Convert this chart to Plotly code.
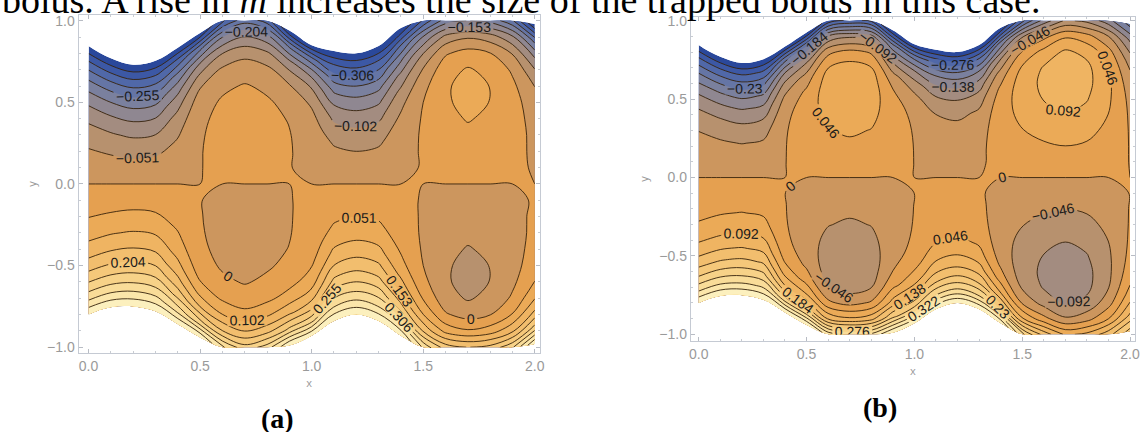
import plotly.graph_objects as go

# ---------------- data ----------------
# x positions of the sampled columns (same for both panels)
x_cols = [0.0, 0.1, 0.2, 0.3, 0.4, 0.5, 0.6, 0.7, 0.8, 0.9, 1.0,
          1.1, 1.2, 1.3, 1.4, 1.5, 1.6, 1.7, 1.8, 1.9, 2.0]
# visible channel walls (clipped by the plot range at +-1)
upper_wall = [0.845, 0.77, 0.73, 0.755, 0.835, 0.925, 1.0, 1.0, 1.0, 0.94, 0.85,
              0.815, 0.80, 0.845, 0.955, 1.0, 1.0, 1.0, 1.0, 1.0, 0.98]
lower_wall = [-0.80, -0.755, -0.75, -0.78, -0.86, -0.94, -1.0, -1.0, -1.0, -0.99, -0.93,
              -0.84, -0.80, -0.84, -0.93, -1.0, -1.0, -1.0, -1.0, -1.0, -0.98]
# fraction of the way from the centre line to the wall
eta_rows = [0.0, 0.1, 0.2, 0.3, 0.4, 0.5, 0.6, 0.7, 0.8, 0.9, 1.0]

# stream-function profiles (centre -> upper wall) for each column, panel (a)
psi_a_cols = [
    [0, -0.018, -0.038, -0.061, -0.089, -0.124, -0.167, -0.221, -0.286, -0.365, -0.459],
    [0, -0.021, -0.043, -0.069, -0.099, -0.135, -0.178, -0.231, -0.295, -0.370, -0.459],
    [0, -0.023, -0.048, -0.075, -0.106, -0.143, -0.187, -0.239, -0.301, -0.374, -0.459],
    [0, -0.022, -0.045, -0.071, -0.102, -0.138, -0.182, -0.234, -0.297, -0.372, -0.459],
    [0, -0.014, -0.028, -0.044, -0.063, -0.089, -0.124, -0.174, -0.242, -0.335, -0.459],
    [0, -0.0005, -0.001, -0.0025, -0.0065, -0.0165, -0.038, -0.080, -0.153, -0.273, -0.459],
    [0, 0.0037, 0.0073, 0.0101, 0.0107, 0.0059, -0.0092, -0.0420, -0.1029, -0.2054, -0.367],
    [0, 0.0048, 0.0094, 0.0135, 0.0158, 0.0138, 0.0035, -0.0209, -0.0677, -0.1478, -0.275],
    [0, 0.0033, 0.0065, 0.0091, 0.0096, 0.0053, -0.0083, -0.0378, -0.0926, -0.1848, -0.330],
    [0, 0.001, 0.002, 0.002, -0.001, -0.010, -0.031, -0.072, -0.146, -0.268, -0.459],
    [0, -0.0055, -0.011, -0.0175, -0.026, -0.040, -0.0645, -0.106, -0.176, -0.288, -0.459],
    [0, -0.015, -0.033, -0.054, -0.080, -0.114, -0.157, -0.212, -0.279, -0.361, -0.459],
    [0, -0.019, -0.039, -0.063, -0.091, -0.126, -0.170, -0.223, -0.288, -0.366, -0.459],
    [0, -0.017, -0.035, -0.058, -0.085, -0.119, -0.163, -0.216, -0.283, -0.363, -0.459],
    [0, -0.007, -0.014, -0.024, -0.038, -0.059, -0.092, -0.142, -0.215, -0.318, -0.459],
    [0, 0.002, 0.004, 0.006, 0.005, 0.000, -0.015, -0.046, -0.103, -0.199, -0.349],
    [0, 0.010, 0.020, 0.030, 0.039, 0.045, 0.045, 0.032, -0.006, -0.085, -0.230],
    [0, 0.014, 0.028, 0.041, 0.054, 0.064, 0.067, 0.056, 0.021, -0.057, -0.202],
    [0, 0.011, 0.022, 0.033, 0.043, 0.050, 0.050, 0.038, 0.002, -0.076, -0.220],
    [0, 0.005, 0.009, 0.014, 0.017, 0.018, 0.011, -0.008, -0.054, -0.142, -0.298],
    [0, -0.002, -0.005, -0.008, -0.014, -0.025, -0.048, -0.089, -0.161, -0.278, -0.459],
]

# stream-function profiles (centre -> upper wall) for each column, panel (b)
psi_b_cols = [
    [0, -0.009, -0.021, -0.036, -0.057, -0.086, -0.124, -0.175, -0.238, -0.317, -0.414],
    [0, -0.012, -0.026, -0.043, -0.065, -0.095, -0.134, -0.183, -0.245, -0.322, -0.414],
    [0, -0.014, -0.029, -0.047, -0.071, -0.101, -0.140, -0.189, -0.250, -0.324, -0.414],
    [0, -0.011, -0.025, -0.042, -0.064, -0.094, -0.132, -0.182, -0.244, -0.321, -0.414],
    [0, -0.0004, -0.001, -0.0022, -0.0059, -0.0149, -0.0344, -0.0718, -0.138, -0.246, -0.414],
    [0, 0.0075, 0.0147, 0.0212, 0.0248, 0.0220, 0.0067, -0.0299, -0.1005, -0.2214, -0.414],
    [0, 0.0149, 0.0298, 0.0443, 0.0576, 0.0667, 0.0661, 0.0454, -0.0121, -0.1321, -0.352],
    [0, 0.0178, 0.0356, 0.0530, 0.0692, 0.0814, 0.0840, 0.0672, 0.0144, -0.0994, -0.3105],
    [0, 0.0149, 0.0298, 0.0444, 0.0576, 0.0670, 0.0670, 0.0478, -0.0067, -0.1211, -0.331],
    [0, 0.0062, 0.0123, 0.0175, 0.0200, 0.0162, 0.0002, -0.0366, -0.1063, -0.2253, -0.414],
    [0, -0.0002, -0.0005, -0.0016, -0.0050, -0.0139, -0.0333, -0.0707, -0.1366, -0.2451, -0.414],
    [0, -0.0050, -0.0105, -0.0179, -0.0292, -0.0476, -0.0770, -0.1223, -0.1890, -0.2838, -0.414],
    [0, -0.0067, -0.0138, -0.0227, -0.0354, -0.0549, -0.0848, -0.1299, -0.1954, -0.2878, -0.414],
    [0, -0.0034, -0.0072, -0.0130, -0.0230, -0.0404, -0.0692, -0.1146, -0.1825, -0.2797, -0.414],
    [0, 0.0075, 0.0147, 0.0212, 0.0248, 0.0220, 0.0067, -0.0299, -0.1005, -0.2214, -0.414],
    [0, 0.0149, 0.0298, 0.0444, 0.0578, 0.0677, 0.0689, 0.0527, 0.0042, -0.0991, -0.290],
    [0, 0.0199, 0.0397, 0.0594, 0.0780, 0.0937, 0.1022, 0.0963, 0.0635, -0.0148, -0.166],
    [0, 0.0228, 0.0455, 0.0681, 0.0898, 0.1090, 0.1221, 0.1229, 0.1008, 0.0399, -0.083],
    [0, 0.0199, 0.0397, 0.0594, 0.0782, 0.0946, 0.1051, 0.1035, 0.0797, 0.0182, -0.1035],
    [0, 0.0116, 0.0232, 0.0346, 0.0452, 0.0536, 0.0564, 0.0480, 0.0189, -0.0453, -0.166],
    [0, -0.0008, -0.0017, -0.0031, -0.0058, -0.0116, -0.0236, -0.0461, -0.0853, -0.1492, -0.248],
]

# contour levels used in each panel
levels_a = dict(start=-0.408, end=0.408, size=0.051)
levels_b = dict(start=-0.368, end=0.368, size=0.046)

x_ticks = [0.0, 0.5, 1.0, 1.5, 2.0]
x_ticktext = ["0.0", "0.5", "1.0", "1.5", "2.0"]
y_ticks = [-1.0, -0.5, 0.0, 0.5, 1.0]
y_ticktext = ["\u22121.0", "\u22120.5", "0.0", "0.5", "1.0"]

# ---------------- build carpet grids ----------------
# b-parameter runs from lower wall (-1) to upper wall (+1); lower half mirrors
b_vals = [-e for e in reversed(eta_rows[1:])] + eta_rows


def build(cols):
    X, Y, Z = [], [], []
    for b in b_vals:
        k = eta_rows.index(abs(b))
        X.append(list(x_cols))
        if b >= 0:
            Y.append([b * w for w in upper_wall])
            Z.append([c[k] for c in cols])
        else:
            Y.append([-b * w for w in lower_wall])
            Z.append([-c[k] for c in cols])
    return X, Y, Z


band_colors = [
    "rgb(42,72,155)", "rgb(60,88,165)", "rgb(80,104,168)", "rgb(101,117,165)",
    "rgb(122,128,158)", "rgb(143,135,145)", "rgb(163,140,128)", "rgb(183,145,110)",
    "rgb(204,150,94)", "rgb(229,160,80)", "rgb(235,170,87)", "rgb(239,180,98)",
    "rgb(242,190,110)", "rgb(245,200,122)", "rgb(247,210,136)", "rgb(249,220,152)",
    "rgb(251,230,170)", "rgb(252,240,190)",
]
nb = len(band_colors) - 1
colorscale = [[i / nb, c] for i, c in enumerate(band_colors)]

hidden_axis = dict(showgrid=False, showline=False, showticklabels="none",
                   startline=False, endline=False, minorgridcount=0,
                   smoothing=1, tickmode="array", tickvals=[])

fig = go.Figure()

for cols, lev, cid, xa, ya in [(psi_a_cols, levels_a, "ca", "x", "y"),
                               (psi_b_cols, levels_b, "cb", "x2", "y2")]:
    X, Y, Z = build(cols)
    fig.add_trace(go.Carpet(a=x_cols, b=b_vals, x=X, y=Y, carpet=cid,
                            xaxis=xa, yaxis=ya,
                            aaxis=hidden_axis, baxis=hidden_axis))
    fig.add_trace(go.Contourcarpet(
        a=x_cols, b=b_vals, z=Z, carpet=cid, xaxis=xa, yaxis=ya,
        autocontour=False,
        contours=dict(start=lev["start"], end=lev["end"], size=lev["size"],
                      coloring="fill", showlabels=True,
                      labelfont=dict(size=14, color="#1a1a1a",
                                     family="Liberation Sans"),
                      labelformat=".3~f"),
        line=dict(color="rgba(55,35,12,0.9)", width=1.0, smoothing=1),
        colorscale=colorscale, showscale=False,
    ))

axis_common = dict(showgrid=False, zeroline=False, showline=True, mirror="ticks",
                   linecolor="#c5cad3", linewidth=1, ticks="inside", ticklen=4,
                   tickcolor="#b8bcc4",
                   tickfont=dict(size=14, color="#9a9a9a", family="Liberation Sans"),
                   minor=dict(ticks="inside", ticklen=2, tickcolor="#c8ccd2", dtick=0.1))

fig.update_layout(
    width=1142, height=432, autosize=False,
    margin=dict(l=0, r=0, t=0, b=0),
    paper_bgcolor="white", plot_bgcolor="white",
    showlegend=False,
    xaxis=dict(domain=[77 / 1142, 541 / 1142], range=[-0.045, 2.022], anchor="y",
               tickvals=x_ticks, ticktext=x_ticktext,
               title=dict(text="x", font=dict(size=11, color="#9a9a9a"), standoff=6),
               **axis_common),
    yaxis=dict(domain=[1 - 354 / 432, 1 - 11 / 432], range=[-1.036, 1.036], anchor="x",
               tickvals=y_ticks, ticktext=y_ticktext,
               title=dict(text="y", font=dict(size=11, color="#9a9a9a"), standoff=8),
               **axis_common),
    xaxis2=dict(domain=[693 / 1142, 1140 / 1142], range=[-0.037, 2.023], anchor="y2",
                tickvals=x_ticks, ticktext=x_ticktext,
                title=dict(text="x", font=dict(size=11, color="#9a9a9a"), standoff=6),
                **axis_common),
    yaxis2=dict(domain=[1 - 342 / 432, 1 - 13 / 432], range=[-1.044, 1.025], anchor="x2",
                tickvals=y_ticks, ticktext=y_ticktext,
                title=dict(text="y", font=dict(size=11, color="#9a9a9a"), standoff=8),
                **axis_common),
    annotations=[
        dict(text="bolus. A rise in <i>m</i> increases the size of the trapped bolus in this case.",
             xref="paper", yref="paper", x=0, y=1 + 4 / 432, xanchor="left", yanchor="middle",
             xshift=-2, showarrow=False,
             font=dict(family="Liberation Serif", size=38, color="black")),
        dict(text="<b>(a)</b>", xref="paper", yref="paper", x=277 / 1142, y=1 - 420 / 432,
             xanchor="center", yanchor="middle", showarrow=False,
             font=dict(family="Liberation Serif", size=28, color="black")),
        dict(text="<b>(b)</b>", xref="paper", yref="paper", x=883 / 1142, y=1 - 409 / 432,
             xanchor="center", yanchor="middle", showarrow=False,
             font=dict(family="Liberation Serif", size=28, color="black")),
    ],
)

fig.write_html("out.html", config={"displayModeBar": False})
